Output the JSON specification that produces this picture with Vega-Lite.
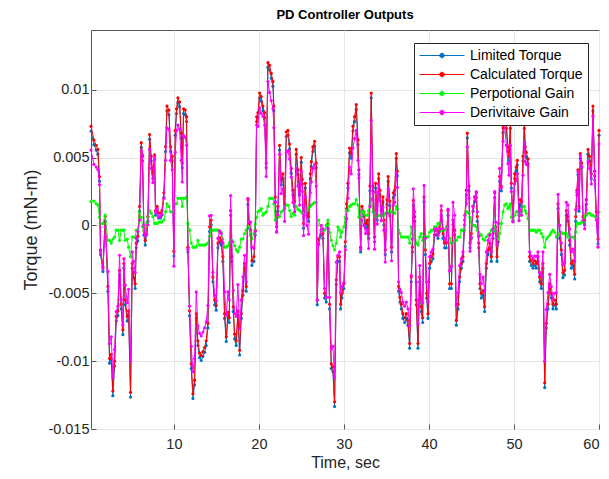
{
  "$schema": "https://vega.github.io/schema/vega-lite/v6.json",
  "width": 508,
  "height": 399,
  "autosize": {"type": "none"},
  "padding": {"left": 91, "top": 30, "right": 10, "bottom": 50},
  "background": "#ffffff",
  "title": {"text": "PD Controller Outputs", "fontSize": 13, "fontWeight": "bold", "font": "Liberation Sans", "color": "#000000", "anchor": "middle", "offset": 8},
  "config": {
    "view": {"stroke": "#555555", "strokeWidth": 1},
    "axis": {"labelFont": "Liberation Sans", "titleFont": "Liberation Sans", "labelFontSize": 14.5, "titleFontSize": 16, "titleFontWeight": "normal", "labelColor": "#262626", "titleColor": "#262626", "gridColor": "#e6e6e6", "gridOpacity": 1, "domain": false, "ticks": true, "tickSize": -5, "tickColor": "#555555"}
  },
  "data": {"values": [
    {"t":0.25,"lim":0.00695,"calc":0.0073,"prop":0.00175,"deriv":0.00555},
    {"t":0.59,"lim":0.00595,"calc":0.0063,"prop":0.0018,"deriv":0.0045},
    {"t":0.86,"lim":0.00555,"calc":0.0059,"prop":0.0016,"deriv":0.0043},
    {"t":1.06,"lim":0.00525,"calc":0.0056,"prop":0.0015,"deriv":0.0041},
    {"t":1.25,"lim":0.00325,"calc":0.0036,"prop":0.0006,"deriv":0.003},
    {"t":1.37,"lim":-0.00215,"calc":-0.0018,"prop":0.00015,"deriv":-0.00195},
    {"t":1.65,"lim":-0.0034,"calc":-0.00305,"prop":0.00015,"deriv":-0.0032},
    {"t":1.92,"lim":0.0003,"calc":0.00065,"prop":0.00076,"deriv":-0.00011},
    {"t":2.24,"lim":-0.00485,"calc":-0.0045,"prop":-0.0011,"deriv":-0.0034},
    {"t":2.43,"lim":-0.01015,"calc":-0.0098,"prop":-0.0011,"deriv":-0.0087},
    {"t":2.63,"lim":-0.00985,"calc":-0.0095,"prop":-0.0013,"deriv":-0.0082},
    {"t":2.82,"lim":-0.01255,"calc":-0.0122,"prop":-0.001,"deriv":-0.0112},
    {"t":3.02,"lim":-0.01035,"calc":-0.01,"prop":-0.00085,"deriv":-0.00915},
    {"t":3.22,"lim":-0.00705,"calc":-0.0067,"prop":-0.00035,"deriv":-0.00635},
    {"t":3.41,"lim":-0.00665,"calc":-0.0063,"prop":-0.00035,"deriv":-0.00595},
    {"t":3.61,"lim":-0.00365,"calc":-0.0033,"prop":-0.0011,"deriv":-0.0022},
    {"t":3.8,"lim":-0.00615,"calc":-0.0058,"prop":-0.00035,"deriv":-0.00545},
    {"t":4.0,"lim":-0.00805,"calc":-0.0077,"prop":-0.00035,"deriv":-0.00735},
    {"t":4.12,"lim":-0.00315,"calc":-0.0028,"prop":-0.00035,"deriv":-0.00245},
    {"t":4.27,"lim":-0.00585,"calc":-0.0055,"prop":-0.0011,"deriv":-0.0044},
    {"t":4.51,"lim":-0.00705,"calc":-0.0067,"prop":-0.001,"deriv":-0.0057},
    {"t":4.67,"lim":-0.00665,"calc":-0.0063,"prop":-0.0016,"deriv":-0.0047},
    {"t":4.9,"lim":-0.01265,"calc":-0.0123,"prop":-0.0023,"deriv":-0.01},
    {"t":5.1,"lim":-0.00315,"calc":-0.0028,"prop":-0.00085,"deriv":-0.00195},
    {"t":5.25,"lim":-0.00385,"calc":-0.0035,"prop":-0.00085,"deriv":-0.00265},
    {"t":5.45,"lim":-0.00465,"calc":-0.0043,"prop":-0.00085,"deriv":-0.00345},
    {"t":5.57,"lim":-0.00165,"calc":-0.0013,"prop":-0.00035,"deriv":-0.00095},
    {"t":5.76,"lim":-0.00115,"calc":-0.0008,"prop":-0.00035,"deriv":-0.00045},
    {"t":5.96,"lim":0.00105,"calc":0.0014,"prop":0.001,"deriv":0.0004},
    {"t":6.16,"lim":0.00575,"calc":0.0061,"prop":0.0006,"deriv":0.0055},
    {"t":6.31,"lim":0.00475,"calc":0.0051,"prop":-0.0001,"deriv":0.0052},
    {"t":6.47,"lim":-0.0007,"calc":-0.00035,"prop":-0.00035,"deriv":0.0},
    {"t":6.63,"lim":-0.00145,"calc":-0.0011,"prop":-0.00035,"deriv":-0.00075},
    {"t":6.78,"lim":-0.0007,"calc":-0.00035,"prop":0.0002,"deriv":-0.00055},
    {"t":6.94,"lim":0.0003,"calc":0.00065,"prop":0.0006,"deriv":0.00005},
    {"t":7.14,"lim":0.00635,"calc":0.0067,"prop":0.0011,"deriv":0.0056},
    {"t":7.33,"lim":0.00475,"calc":0.0051,"prop":0.0009,"deriv":0.0042},
    {"t":7.53,"lim":0.00345,"calc":0.0038,"prop":0.00065,"deriv":0.00315},
    {"t":7.73,"lim":0.00485,"calc":0.0052,"prop":0.00015,"deriv":0.00505},
    {"t":7.84,"lim":0.00075,"calc":0.0011,"prop":0.00015,"deriv":0.00095},
    {"t":8.04,"lim":0.00105,"calc":0.0014,"prop":0.00015,"deriv":0.00125},
    {"t":8.2,"lim":0.00055,"calc":0.0009,"prop":0.00025,"deriv":0.00065},
    {"t":8.43,"lim":0.00055,"calc":0.0009,"prop":0.00025,"deriv":0.00065},
    {"t":8.59,"lim":0.00075,"calc":0.0011,"prop":0.00025,"deriv":0.00085},
    {"t":8.82,"lim":0.00205,"calc":0.0024,"prop":0.0004,"deriv":0.002},
    {"t":9.02,"lim":0.00545,"calc":0.0058,"prop":0.001,"deriv":0.0048},
    {"t":9.18,"lim":0.00845,"calc":0.0088,"prop":0.0016,"deriv":0.0072},
    {"t":9.41,"lim":0.00815,"calc":0.0085,"prop":0.0014,"deriv":0.0071},
    {"t":9.61,"lim":0.00545,"calc":0.0058,"prop":0.001,"deriv":0.0048},
    {"t":9.8,"lim":0.00475,"calc":0.0051,"prop":0.001,"deriv":0.0041},
    {"t":10.0,"lim":-0.00225,"calc":-0.0019,"prop":0.0011,"deriv":-0.003},
    {"t":10.16,"lim":0.00665,"calc":0.007,"prop":0.0016,"deriv":0.0054},
    {"t":10.31,"lim":0.00825,"calc":0.0086,"prop":0.0016,"deriv":0.007},
    {"t":10.47,"lim":0.00905,"calc":0.0094,"prop":0.002,"deriv":0.0074},
    {"t":10.67,"lim":0.00875,"calc":0.0091,"prop":0.002,"deriv":0.0071},
    {"t":10.86,"lim":0.00645,"calc":0.0068,"prop":0.002,"deriv":0.0048},
    {"t":10.98,"lim":0.00425,"calc":0.0046,"prop":0.0014,"deriv":0.0032},
    {"t":11.14,"lim":0.00825,"calc":0.0086,"prop":0.002,"deriv":0.0066},
    {"t":11.33,"lim":0.00815,"calc":0.0085,"prop":0.002,"deriv":0.0065},
    {"t":11.49,"lim":0.00765,"calc":0.008,"prop":0.0021,"deriv":0.0059},
    {"t":11.65,"lim":-0.00195,"calc":-0.0016,"prop":0.00015,"deriv":-0.00175},
    {"t":11.84,"lim":-0.00665,"calc":-0.0063,"prop":-0.00035,"deriv":-0.00595},
    {"t":12.04,"lim":-0.01055,"calc":-0.0102,"prop":-0.0013,"deriv":-0.0089},
    {"t":12.24,"lim":-0.01275,"calc":-0.0124,"prop":-0.0016,"deriv":-0.0108},
    {"t":12.43,"lim":-0.01175,"calc":-0.0114,"prop":-0.0016,"deriv":-0.0098},
    {"t":12.63,"lim":-0.00685,"calc":-0.0065,"prop":-0.0016,"deriv":-0.0049},
    {"t":12.82,"lim":-0.00885,"calc":-0.0085,"prop":-0.0011,"deriv":-0.0074},
    {"t":13.02,"lim":-0.00975,"calc":-0.0094,"prop":-0.00145,"deriv":-0.00795},
    {"t":13.22,"lim":-0.00995,"calc":-0.0096,"prop":-0.00145,"deriv":-0.00815},
    {"t":13.41,"lim":-0.00965,"calc":-0.0093,"prop":-0.00145,"deriv":-0.00785},
    {"t":13.61,"lim":-0.00935,"calc":-0.009,"prop":-0.00145,"deriv":-0.00755},
    {"t":13.8,"lim":-0.00885,"calc":-0.0085,"prop":-0.0014,"deriv":-0.0071},
    {"t":14.0,"lim":-0.00755,"calc":-0.0072,"prop":-0.0013,"deriv":-0.0059},
    {"t":14.2,"lim":-0.00045,"calc":-0.0001,"prop":-0.0008,"deriv":0.0007},
    {"t":14.39,"lim":0.00005,"calc":0.0004,"prop":-0.00035,"deriv":0.00075},
    {"t":14.59,"lim":-0.00415,"calc":-0.0038,"prop":-0.00035,"deriv":-0.00345},
    {"t":14.79,"lim":-0.00585,"calc":-0.0055,"prop":-0.00035,"deriv":-0.00515},
    {"t":14.98,"lim":-0.00625,"calc":-0.0059,"prop":-0.00035,"deriv":-0.00555},
    {"t":15.18,"lim":-0.00165,"calc":-0.0013,"prop":-0.00035,"deriv":-0.00095},
    {"t":15.37,"lim":-0.00125,"calc":-0.0009,"prop":-0.0005,"deriv":-0.0004},
    {"t":15.57,"lim":-0.00145,"calc":-0.0011,"prop":-0.0005,"deriv":-0.0006},
    {"t":15.76,"lim":-0.00265,"calc":-0.0023,"prop":-0.001,"deriv":-0.0013},
    {"t":15.96,"lim":-0.00685,"calc":-0.0065,"prop":-0.0016,"deriv":-0.0049},
    {"t":16.16,"lim":-0.00855,"calc":-0.0082,"prop":-0.0016,"deriv":-0.0066},
    {"t":16.35,"lim":-0.00675,"calc":-0.0064,"prop":-0.0015,"deriv":-0.0049},
    {"t":16.51,"lim":-0.00715,"calc":-0.0068,"prop":-0.0013,"deriv":-0.0055},
    {"t":16.67,"lim":0.00075,"calc":0.0011,"prop":-0.0011,"deriv":0.0022},
    {"t":16.82,"lim":-0.00265,"calc":-0.0023,"prop":-0.0011,"deriv":-0.0012},
    {"t":16.98,"lim":-0.00635,"calc":-0.006,"prop":-0.0012,"deriv":-0.0048},
    {"t":17.14,"lim":-0.00835,"calc":-0.008,"prop":-0.0015,"deriv":-0.0065},
    {"t":17.33,"lim":-0.00885,"calc":-0.0085,"prop":-0.0018,"deriv":-0.0067},
    {"t":17.53,"lim":-0.00665,"calc":-0.0063,"prop":-0.00195,"deriv":-0.00435},
    {"t":17.73,"lim":-0.00955,"calc":-0.0092,"prop":-0.0016,"deriv":-0.0076},
    {"t":17.92,"lim":-0.00685,"calc":-0.0065,"prop":-0.001,"deriv":-0.0055},
    {"t":18.12,"lim":-0.00515,"calc":-0.0048,"prop":-0.001,"deriv":-0.0038},
    {"t":18.31,"lim":-0.00315,"calc":-0.0028,"prop":-0.0006,"deriv":-0.0022},
    {"t":18.51,"lim":-0.00485,"calc":-0.0045,"prop":-0.00035,"deriv":-0.00415},
    {"t":18.71,"lim":0.00155,"calc":0.0019,"prop":-0.0001,"deriv":0.002},
    {"t":18.86,"lim":-0.0002,"calc":0.00015,"prop":-0.0001,"deriv":0.00025},
    {"t":19.02,"lim":-0.0007,"calc":-0.00035,"prop":-0.0006,"deriv":0.00025},
    {"t":19.18,"lim":-0.00295,"calc":-0.0026,"prop":-0.001,"deriv":-0.0016},
    {"t":19.41,"lim":-0.00265,"calc":-0.0023,"prop":-0.0006,"deriv":-0.0017},
    {"t":19.57,"lim":-0.0007,"calc":-0.00035,"prop":0.0001,"deriv":-0.00045},
    {"t":19.73,"lim":0.00765,"calc":0.008,"prop":0.0006,"deriv":0.0074},
    {"t":19.88,"lim":0.00795,"calc":0.0083,"prop":0.001,"deriv":0.0073},
    {"t":20.08,"lim":0.0094,"calc":0.00975,"prop":0.0011,"deriv":0.00865},
    {"t":20.27,"lim":0.00915,"calc":0.0095,"prop":0.00125,"deriv":0.00825},
    {"t":20.47,"lim":0.00845,"calc":0.0088,"prop":0.00075,"deriv":0.00805},
    {"t":20.67,"lim":0.00795,"calc":0.0083,"prop":0.0009,"deriv":0.0074},
    {"t":20.86,"lim":0.00425,"calc":0.0046,"prop":0.001,"deriv":0.0036},
    {"t":21.06,"lim":0.01165,"calc":0.012,"prop":0.0014,"deriv":0.0106},
    {"t":21.25,"lim":0.01145,"calc":0.0118,"prop":0.002,"deriv":0.0098},
    {"t":21.45,"lim":0.01085,"calc":0.0112,"prop":0.002,"deriv":0.0092},
    {"t":21.65,"lim":0.01025,"calc":0.0106,"prop":0.002,"deriv":0.0086},
    {"t":21.76,"lim":0.00845,"calc":0.0088,"prop":0.0016,"deriv":0.0072},
    {"t":21.92,"lim":0.00175,"calc":0.0021,"prop":0.0004,"deriv":0.0017},
    {"t":22.08,"lim":-0.00045,"calc":-0.0001,"prop":0.0004,"deriv":-0.0005},
    {"t":22.24,"lim":0.00105,"calc":0.0014,"prop":0.0006,"deriv":0.0008},
    {"t":22.43,"lim":0.00555,"calc":0.0059,"prop":0.00065,"deriv":0.00525},
    {"t":22.63,"lim":0.003,"calc":0.00335,"prop":0.001,"deriv":0.00235},
    {"t":22.82,"lim":0.00345,"calc":0.0038,"prop":0.0011,"deriv":0.0027},
    {"t":23.02,"lim":0.00125,"calc":0.0016,"prop":0.0013,"deriv":0.0003},
    {"t":23.22,"lim":0.00655,"calc":0.0069,"prop":0.0015,"deriv":0.0054},
    {"t":23.41,"lim":0.00665,"calc":0.007,"prop":0.0015,"deriv":0.0055},
    {"t":23.61,"lim":0.00565,"calc":0.006,"prop":0.0011,"deriv":0.0049},
    {"t":23.8,"lim":0.00385,"calc":0.0042,"prop":0.00065,"deriv":0.00355},
    {"t":24.0,"lim":0.00225,"calc":0.0026,"prop":0.0009,"deriv":0.0017},
    {"t":24.2,"lim":0.0014,"calc":0.00175,"prop":0.00075,"deriv":0.001},
    {"t":24.39,"lim":0.00525,"calc":0.0056,"prop":0.0014,"deriv":0.0042},
    {"t":24.59,"lim":0.00375,"calc":0.0041,"prop":0.0012,"deriv":0.0029},
    {"t":24.78,"lim":0.00225,"calc":0.0026,"prop":0.0011,"deriv":0.0015},
    {"t":24.98,"lim":0.00465,"calc":0.005,"prop":0.001,"deriv":0.004},
    {"t":25.1,"lim":0.00305,"calc":0.0034,"prop":0.0009,"deriv":0.0025},
    {"t":25.25,"lim":-0.0002,"calc":0.00015,"prop":0.0009,"deriv":-0.00075},
    {"t":25.45,"lim":0.00275,"calc":0.0031,"prop":0.001,"deriv":0.0021},
    {"t":25.65,"lim":0.00075,"calc":0.0011,"prop":0.0011,"deriv":0.0},
    {"t":25.84,"lim":0.0003,"calc":0.00065,"prop":0.0013,"deriv":-0.00065},
    {"t":26.04,"lim":0.00345,"calc":0.0038,"prop":0.0014,"deriv":0.0024},
    {"t":26.16,"lim":0.00435,"calc":0.0047,"prop":0.0015,"deriv":0.0032},
    {"t":26.35,"lim":0.00545,"calc":0.0058,"prop":0.0016,"deriv":0.0042},
    {"t":26.55,"lim":0.00585,"calc":0.0062,"prop":0.0017,"deriv":0.0045},
    {"t":26.74,"lim":0.00425,"calc":0.0046,"prop":0.0017,"deriv":0.0029},
    {"t":26.86,"lim":-0.00585,"calc":-0.0055,"prop":0.0,"deriv":-0.0055},
    {"t":27.02,"lim":-0.00135,"calc":-0.001,"prop":0.0004,"deriv":-0.0014},
    {"t":27.33,"lim":-0.0007,"calc":-0.00035,"prop":-0.00035,"deriv":0.0},
    {"t":27.53,"lim":-0.00095,"calc":-0.0006,"prop":-0.00035,"deriv":-0.00025},
    {"t":27.72,"lim":-0.00535,"calc":-0.005,"prop":-0.00035,"deriv":-0.00465},
    {"t":27.92,"lim":-0.00565,"calc":-0.0053,"prop":0.0,"deriv":-0.0053},
    {"t":28.12,"lim":-0.0002,"calc":0.00015,"prop":0.0004,"deriv":-0.00025},
    {"t":28.31,"lim":-0.00615,"calc":-0.0058,"prop":-0.0005,"deriv":-0.0053},
    {"t":28.51,"lim":-0.01055,"calc":-0.0102,"prop":-0.0011,"deriv":-0.0091},
    {"t":28.7,"lim":-0.01075,"calc":-0.0104,"prop":-0.0015,"deriv":-0.0089},
    {"t":28.9,"lim":-0.01335,"calc":-0.013,"prop":-0.0018,"deriv":-0.0112},
    {"t":29.1,"lim":-0.00435,"calc":-0.004,"prop":-0.0013,"deriv":-0.0027},
    {"t":29.29,"lim":-0.00265,"calc":-0.0023,"prop":-0.0001,"deriv":-0.0022},
    {"t":29.49,"lim":-0.00265,"calc":-0.0023,"prop":-0.00035,"deriv":-0.00195},
    {"t":29.61,"lim":-0.00615,"calc":-0.0058,"prop":-0.00085,"deriv":-0.00495},
    {"t":29.76,"lim":-0.00535,"calc":-0.005,"prop":-0.0005,"deriv":-0.0045},
    {"t":30.0,"lim":-0.00465,"calc":-0.0043,"prop":-0.0001,"deriv":-0.0042},
    {"t":30.16,"lim":-0.00155,"calc":-0.0012,"prop":0.0006,"deriv":-0.0018},
    {"t":30.31,"lim":0.00125,"calc":0.0016,"prop":0.0011,"deriv":0.0005},
    {"t":30.47,"lim":0.00275,"calc":0.0031,"prop":0.0011,"deriv":0.002},
    {"t":30.66,"lim":0.00535,"calc":0.0057,"prop":0.0014,"deriv":0.0043},
    {"t":30.86,"lim":0.00495,"calc":0.0053,"prop":0.0015,"deriv":0.0038},
    {"t":31.06,"lim":0.00695,"calc":0.0073,"prop":0.0016,"deriv":0.0057},
    {"t":31.25,"lim":0.00765,"calc":0.008,"prop":0.0016,"deriv":0.0064},
    {"t":31.45,"lim":0.00855,"calc":0.0089,"prop":0.0019,"deriv":0.007},
    {"t":31.65,"lim":0.00595,"calc":0.0063,"prop":0.0015,"deriv":0.0048},
    {"t":31.76,"lim":0.00375,"calc":0.0041,"prop":0.0006,"deriv":0.0035},
    {"t":31.96,"lim":-0.00195,"calc":-0.0016,"prop":0.00015,"deriv":-0.00175},
    {"t":32.12,"lim":0.00105,"calc":0.0014,"prop":0.001,"deriv":0.0004},
    {"t":32.35,"lim":0.00065,"calc":0.001,"prop":0.001,"deriv":0.0},
    {"t":32.55,"lim":-0.0002,"calc":0.00015,"prop":0.00075,"deriv":-0.0006},
    {"t":32.74,"lim":0.00005,"calc":0.0004,"prop":0.00075,"deriv":-0.00035},
    {"t":32.9,"lim":-0.00095,"calc":-0.0006,"prop":0.0011,"deriv":-0.0017},
    {"t":33.06,"lim":0.00255,"calc":0.0029,"prop":0.0015,"deriv":0.0014},
    {"t":33.21,"lim":0.0094,"calc":0.00975,"prop":0.002,"deriv":0.00775},
    {"t":33.41,"lim":0.00255,"calc":0.0029,"prop":0.001,"deriv":0.0019},
    {"t":33.6,"lim":-0.0012,"calc":-0.00085,"prop":0.0009,"deriv":-0.00175},
    {"t":33.72,"lim":0.00275,"calc":0.0031,"prop":0.00065,"deriv":0.00245},
    {"t":33.92,"lim":0.0004,"calc":0.00075,"prop":0.00065,"deriv":0.0001},
    {"t":34.08,"lim":0.00345,"calc":0.0038,"prop":0.00075,"deriv":0.00305},
    {"t":34.23,"lim":0.00225,"calc":0.0026,"prop":0.00075,"deriv":0.00185},
    {"t":34.39,"lim":0.00075,"calc":0.0011,"prop":0.00075,"deriv":0.00035},
    {"t":34.59,"lim":0.00175,"calc":0.0021,"prop":0.00075,"deriv":0.00135},
    {"t":34.7,"lim":0.00005,"calc":0.0004,"prop":0.00075,"deriv":-0.00035},
    {"t":34.86,"lim":-0.00215,"calc":-0.0018,"prop":0.0009,"deriv":-0.0027},
    {"t":35.06,"lim":0.00155,"calc":0.0019,"prop":0.001,"deriv":0.0009},
    {"t":35.2,"lim":0.00325,"calc":0.0036,"prop":0.0009,"deriv":0.0027},
    {"t":35.4,"lim":0.00145,"calc":0.0018,"prop":0.0011,"deriv":0.0007},
    {"t":35.6,"lim":-0.00195,"calc":-0.0016,"prop":0.001,"deriv":-0.0026},
    {"t":35.81,"lim":0.00205,"calc":0.0024,"prop":0.0009,"deriv":0.0015},
    {"t":35.96,"lim":0.00225,"calc":0.0026,"prop":0.0009,"deriv":0.0017},
    {"t":36.16,"lim":0.00495,"calc":0.0053,"prop":0.0014,"deriv":0.0039},
    {"t":36.28,"lim":0.00365,"calc":0.004,"prop":0.0012,"deriv":0.0028},
    {"t":36.43,"lim":-0.00485,"calc":-0.0045,"prop":-0.00035,"deriv":-0.00415},
    {"t":36.59,"lim":-0.00565,"calc":-0.0053,"prop":-0.0006,"deriv":-0.0047},
    {"t":36.75,"lim":-0.00615,"calc":-0.0058,"prop":-0.00085,"deriv":-0.00495},
    {"t":36.94,"lim":-0.00685,"calc":-0.0065,"prop":-0.00085,"deriv":-0.00565},
    {"t":37.14,"lim":-0.00715,"calc":-0.0068,"prop":-0.00085,"deriv":-0.00595},
    {"t":37.34,"lim":-0.00685,"calc":-0.0065,"prop":-0.00085,"deriv":-0.00565},
    {"t":37.53,"lim":-0.00735,"calc":-0.007,"prop":-0.00085,"deriv":-0.00615},
    {"t":37.73,"lim":-0.00905,"calc":-0.0087,"prop":-0.0013,"deriv":-0.0074},
    {"t":37.92,"lim":-0.00415,"calc":-0.0038,"prop":-0.0001,"deriv":-0.0037},
    {"t":38.04,"lim":-0.00195,"calc":-0.0016,"prop":-0.0006,"deriv":-0.001},
    {"t":38.16,"lim":0.0015,"calc":0.00185,"prop":-0.00085,"deriv":0.0027},
    {"t":38.32,"lim":0.0003,"calc":0.00065,"prop":-0.00035,"deriv":0.001},
    {"t":38.51,"lim":-0.00585,"calc":-0.0055,"prop":-0.0013,"deriv":-0.0042},
    {"t":38.71,"lim":-0.00905,"calc":-0.0087,"prop":-0.00145,"deriv":-0.00725},
    {"t":38.91,"lim":-0.00415,"calc":-0.0038,"prop":-0.00085,"deriv":-0.00295},
    {"t":39.1,"lim":-0.00635,"calc":-0.006,"prop":-0.0006,"deriv":-0.0054},
    {"t":39.26,"lim":-0.00715,"calc":-0.0068,"prop":-0.0011,"deriv":-0.0057},
    {"t":39.42,"lim":0.00175,"calc":0.0021,"prop":-0.00085,"deriv":0.00295},
    {"t":39.57,"lim":-0.00215,"calc":-0.0018,"prop":-0.00085,"deriv":-0.00095},
    {"t":39.73,"lim":-0.00535,"calc":-0.005,"prop":-0.00085,"deriv":-0.00415},
    {"t":39.89,"lim":-0.00685,"calc":-0.0065,"prop":-0.00085,"deriv":-0.00565},
    {"t":40.08,"lim":-0.00315,"calc":-0.0028,"prop":-0.0005,"deriv":-0.0023},
    {"t":40.28,"lim":-0.00265,"calc":-0.0023,"prop":-0.00035,"deriv":-0.00195},
    {"t":40.47,"lim":-0.00245,"calc":-0.0021,"prop":-0.00035,"deriv":-0.00175},
    {"t":40.67,"lim":-0.0007,"calc":-0.00035,"prop":-0.0001,"deriv":-0.00025},
    {"t":40.87,"lim":-0.0007,"calc":-0.00035,"prop":-0.0001,"deriv":-0.00025},
    {"t":41.06,"lim":-0.00095,"calc":-0.0006,"prop":0.00015,"deriv":-0.00075},
    {"t":41.26,"lim":-0.00045,"calc":-0.0001,"prop":0.00015,"deriv":-0.00025},
    {"t":41.45,"lim":0.00075,"calc":0.0011,"prop":-0.00035,"deriv":0.00145},
    {"t":41.65,"lim":-0.00095,"calc":-0.0006,"prop":-0.00035,"deriv":-0.00025},
    {"t":41.85,"lim":-0.00165,"calc":-0.0013,"prop":-0.00035,"deriv":-0.00095},
    {"t":42.04,"lim":-0.00165,"calc":-0.0013,"prop":-0.0001,"deriv":-0.0012},
    {"t":42.24,"lim":0.00075,"calc":0.0011,"prop":-0.0001,"deriv":0.0012},
    {"t":42.43,"lim":-0.00465,"calc":-0.0043,"prop":-0.00095,"deriv":-0.00335},
    {"t":42.63,"lim":-0.00465,"calc":-0.0043,"prop":-0.0013,"deriv":-0.003},
    {"t":42.83,"lim":0.00005,"calc":0.0004,"prop":-0.0013,"deriv":0.0017},
    {"t":43.02,"lim":-0.0007,"calc":-0.00035,"prop":-0.0011,"deriv":0.00075},
    {"t":43.22,"lim":-0.00735,"calc":-0.007,"prop":-0.0011,"deriv":-0.0059},
    {"t":43.42,"lim":-0.00615,"calc":-0.0058,"prop":-0.00085,"deriv":-0.00495},
    {"t":43.61,"lim":-0.00415,"calc":-0.0038,"prop":-0.00085,"deriv":-0.00295},
    {"t":43.81,"lim":-0.00315,"calc":-0.0028,"prop":-0.00035,"deriv":-0.00245},
    {"t":44.0,"lim":-0.00265,"calc":-0.0023,"prop":-0.00035,"deriv":-0.00195},
    {"t":44.2,"lim":0.00005,"calc":0.0004,"prop":-0.00035,"deriv":0.00075},
    {"t":44.4,"lim":0.00225,"calc":0.0026,"prop":0.001,"deriv":0.0016},
    {"t":44.51,"lim":0.00645,"calc":0.0068,"prop":0.001,"deriv":0.0058},
    {"t":44.71,"lim":0.00255,"calc":0.0029,"prop":0.0009,"deriv":0.002},
    {"t":44.83,"lim":-0.00165,"calc":-0.0013,"prop":0.0006,"deriv":-0.0019},
    {"t":44.98,"lim":-0.00095,"calc":-0.0006,"prop":0.00025,"deriv":-0.00085},
    {"t":45.18,"lim":0.00105,"calc":0.0014,"prop":0.0,"deriv":0.0014},
    {"t":45.38,"lim":0.00175,"calc":0.0021,"prop":0.0,"deriv":0.0021},
    {"t":45.57,"lim":0.00205,"calc":0.0024,"prop":-0.0001,"deriv":0.0025},
    {"t":45.69,"lim":0.0003,"calc":0.00065,"prop":-0.00035,"deriv":0.001},
    {"t":45.85,"lim":-0.00165,"calc":-0.0013,"prop":-0.0005,"deriv":-0.0008},
    {"t":46.0,"lim":-0.00465,"calc":-0.0043,"prop":-0.0007,"deriv":-0.0036},
    {"t":46.16,"lim":-0.00535,"calc":-0.005,"prop":-0.0007,"deriv":-0.0043},
    {"t":46.36,"lim":-0.00515,"calc":-0.0048,"prop":-0.001,"deriv":-0.0038},
    {"t":46.55,"lim":-0.00635,"calc":-0.006,"prop":-0.0011,"deriv":-0.0049},
    {"t":46.75,"lim":-0.00315,"calc":-0.0028,"prop":-0.00085,"deriv":-0.00195},
    {"t":46.95,"lim":-0.00215,"calc":-0.0018,"prop":-0.0007,"deriv":-0.0011},
    {"t":47.14,"lim":-0.00165,"calc":-0.0013,"prop":-0.0006,"deriv":-0.0007},
    {"t":47.34,"lim":-0.00265,"calc":-0.0023,"prop":-0.00035,"deriv":-0.00195},
    {"t":47.53,"lim":-0.00095,"calc":-0.0006,"prop":-0.00035,"deriv":-0.00025},
    {"t":47.73,"lim":0.00205,"calc":0.0024,"prop":-0.0001,"deriv":0.0025},
    {"t":47.84,"lim":-0.00045,"calc":-0.0001,"prop":-0.00035,"deriv":0.00025},
    {"t":48.0,"lim":-0.00265,"calc":-0.0023,"prop":-0.00085,"deriv":-0.00145},
    {"t":48.16,"lim":-0.0012,"calc":-0.00085,"prop":-0.001,"deriv":0.00015},
    {"t":48.31,"lim":0.00325,"calc":0.0036,"prop":-0.0006,"deriv":0.0042},
    {"t":48.51,"lim":0.00255,"calc":0.0029,"prop":0.00015,"deriv":0.00275},
    {"t":48.71,"lim":0.00685,"calc":0.0072,"prop":0.001,"deriv":0.0062},
    {"t":48.9,"lim":0.00865,"calc":0.009,"prop":0.0015,"deriv":0.0075},
    {"t":49.1,"lim":0.00715,"calc":0.0075,"prop":0.0016,"deriv":0.0059},
    {"t":49.29,"lim":0.00545,"calc":0.0058,"prop":0.00125,"deriv":0.00455},
    {"t":49.41,"lim":0.00475,"calc":0.0051,"prop":0.0014,"deriv":0.0037},
    {"t":49.57,"lim":0.00715,"calc":0.0075,"prop":0.0016,"deriv":0.0059},
    {"t":49.69,"lim":0.00275,"calc":0.0031,"prop":0.0006,"deriv":0.0025},
    {"t":49.88,"lim":0.0003,"calc":0.00065,"prop":0.0004,"deriv":0.00025},
    {"t":50.08,"lim":0.00345,"calc":0.0038,"prop":0.00075,"deriv":0.00305},
    {"t":50.27,"lim":0.00395,"calc":0.0043,"prop":0.001,"deriv":0.0033},
    {"t":50.39,"lim":0.00445,"calc":0.0048,"prop":0.001,"deriv":0.0038},
    {"t":50.59,"lim":0.00075,"calc":0.0011,"prop":0.00075,"deriv":0.00035},
    {"t":50.75,"lim":0.00155,"calc":0.0019,"prop":0.00075,"deriv":0.00115},
    {"t":50.9,"lim":0.0014,"calc":0.00175,"prop":0.001,"deriv":0.00075},
    {"t":51.06,"lim":0.00475,"calc":0.0051,"prop":0.0014,"deriv":0.0037},
    {"t":51.22,"lim":0.00715,"calc":0.0075,"prop":0.0014,"deriv":0.0061},
    {"t":51.33,"lim":0.00545,"calc":0.0058,"prop":0.0011,"deriv":0.0047},
    {"t":51.45,"lim":0.00505,"calc":0.0054,"prop":0.0009,"deriv":0.0045},
    {"t":51.65,"lim":0.00455,"calc":0.0049,"prop":0.0005,"deriv":0.0044},
    {"t":51.84,"lim":-0.00265,"calc":-0.0023,"prop":-0.00035,"deriv":-0.00195},
    {"t":52.04,"lim":-0.00295,"calc":-0.0026,"prop":-0.00035,"deriv":-0.00225},
    {"t":52.24,"lim":-0.00315,"calc":-0.0028,"prop":-0.00035,"deriv":-0.00245},
    {"t":52.43,"lim":-0.00295,"calc":-0.0026,"prop":-0.00035,"deriv":-0.00225},
    {"t":52.63,"lim":-0.00315,"calc":-0.0028,"prop":-0.0005,"deriv":-0.0023},
    {"t":52.82,"lim":-0.00265,"calc":-0.0023,"prop":-0.00035,"deriv":-0.00195},
    {"t":53.02,"lim":-0.00415,"calc":-0.0038,"prop":-0.00035,"deriv":-0.00345},
    {"t":53.22,"lim":-0.00465,"calc":-0.0043,"prop":-0.0006,"deriv":-0.0037},
    {"t":53.41,"lim":-0.00315,"calc":-0.0028,"prop":-0.00085,"deriv":-0.00195},
    {"t":53.61,"lim":-0.01195,"calc":-0.0116,"prop":-0.0016,"deriv":-0.01},
    {"t":53.8,"lim":-0.00755,"calc":-0.0072,"prop":-0.001,"deriv":-0.0062},
    {"t":54.0,"lim":-0.00615,"calc":-0.0058,"prop":-0.00085,"deriv":-0.00495},
    {"t":54.2,"lim":-0.00465,"calc":-0.0043,"prop":-0.0007,"deriv":-0.0036},
    {"t":54.39,"lim":-0.00535,"calc":-0.005,"prop":-0.0005,"deriv":-0.0045},
    {"t":54.59,"lim":-0.00615,"calc":-0.0058,"prop":-0.00035,"deriv":-0.00545},
    {"t":54.78,"lim":-0.00585,"calc":-0.0055,"prop":-0.0005,"deriv":-0.005},
    {"t":54.98,"lim":-0.00615,"calc":-0.0058,"prop":-0.00085,"deriv":-0.00495},
    {"t":55.18,"lim":0.00125,"calc":0.0016,"prop":-0.0007,"deriv":0.0023},
    {"t":55.37,"lim":-0.00095,"calc":-0.0006,"prop":-0.0006,"deriv":0.0},
    {"t":55.57,"lim":-0.00215,"calc":-0.0018,"prop":-0.0005,"deriv":-0.0013},
    {"t":55.76,"lim":-0.00385,"calc":-0.0035,"prop":-0.0006,"deriv":-0.0029},
    {"t":55.96,"lim":-0.00365,"calc":-0.0033,"prop":-0.0006,"deriv":-0.0027},
    {"t":56.16,"lim":0.00075,"calc":0.0011,"prop":-0.0006,"deriv":0.0017},
    {"t":56.35,"lim":0.0003,"calc":0.00065,"prop":-0.00085,"deriv":0.0015},
    {"t":56.55,"lim":-0.00145,"calc":-0.0011,"prop":-0.00085,"deriv":-0.00025},
    {"t":56.75,"lim":-0.00315,"calc":-0.0028,"prop":-0.00085,"deriv":-0.00195},
    {"t":56.94,"lim":-0.00295,"calc":-0.0026,"prop":-0.00085,"deriv":-0.00175},
    {"t":57.14,"lim":-0.00395,"calc":-0.0036,"prop":-0.00095,"deriv":-0.00265},
    {"t":57.25,"lim":0.0003,"calc":0.00065,"prop":-0.0005,"deriv":0.00115},
    {"t":57.41,"lim":0.00225,"calc":0.0026,"prop":0.00015,"deriv":0.00245},
    {"t":57.53,"lim":0.00375,"calc":0.0041,"prop":0.00015,"deriv":0.00395},
    {"t":57.65,"lim":0.00105,"calc":0.0014,"prop":0.00015,"deriv":0.00125},
    {"t":57.8,"lim":0.00495,"calc":0.0053,"prop":0.00015,"deriv":0.00515},
    {"t":57.96,"lim":0.00425,"calc":0.0046,"prop":0.00025,"deriv":0.00435},
    {"t":58.12,"lim":0.0003,"calc":0.00065,"prop":0.00025,"deriv":0.0004},
    {"t":58.31,"lim":0.00005,"calc":0.0004,"prop":0.00065,"deriv":-0.00025},
    {"t":58.51,"lim":0.00155,"calc":0.0019,"prop":0.00075,"deriv":0.00115},
    {"t":58.71,"lim":0.00525,"calc":0.0056,"prop":0.0009,"deriv":0.0047},
    {"t":58.9,"lim":0.00475,"calc":0.0051,"prop":0.0009,"deriv":0.0042},
    {"t":59.1,"lim":0.00345,"calc":0.0038,"prop":0.00075,"deriv":0.00305},
    {"t":59.29,"lim":0.00845,"calc":0.0088,"prop":0.00075,"deriv":0.00805},
    {"t":59.49,"lim":0.00365,"calc":0.004,"prop":0.00065,"deriv":0.00335},
    {"t":59.69,"lim":0.00065,"calc":0.001,"prop":0.0006,"deriv":0.0004},
    {"t":59.88,"lim":-0.00135,"calc":-0.001,"prop":0.0006,"deriv":-0.0016},
    {"t":60.0,"lim":0.00665,"calc":0.007,"prop":0.001,"deriv":0.006}
  ]},
  "transform": [{"fold": ["lim", "calc", "prop", "deriv"], "as": ["series", "value"]}],
  "encoding": {
    "x": {"field": "t", "type": "quantitative", "scale": {"domain": [0.25, 60], "nice": false, "zero": false},
      "axis": {"title": "Time, sec", "values": [10, 20, 30, 40, 50, 60], "labelPadding": 13, "titlePadding": 4, "grid": true}},
    "y": {"field": "value", "type": "quantitative", "scale": {"domain": [-0.015, 0.0144], "nice": false, "zero": false},
      "axis": {"title": "Torque (mN-m)", "titleFontSize": 18, "values": [-0.015, -0.01, -0.005, 0, 0.005, 0.01], "labelExpr": "'' + datum.value", "labelPadding": 7, "titlePadding": 7, "grid": true}},
    "color": {"field": "series", "type": "nominal",
      "scale": {"domain": ["lim", "calc", "prop", "deriv"], "range": ["#0072BD", "#FF0000", "#00FF00", "#FF00FF"]},
      "legend": {"orient": "none", "legendX": 323, "legendY": 13, "title": null,
        "labelExpr": "datum.value === 'lim' ? 'Limited Torque' : datum.value === 'calc' ? 'Calculated Torque' : datum.value === 'prop' ? 'Perpotional Gain' : 'Derivitaive Gain'",
        "symbolType": "M-1,0H1M0.1,0A0.1,0.1,0,1,1,-0.1,0A0.1,0.1,0,1,1,0.1,0Z",
        "symbolSize": 2025, "symbolStrokeWidth": 1, "labelFont": "Liberation Sans", "labelFontSize": 14, "labelColor": "#000000",
        "fillColor": "#ffffff", "strokeColor": "#262626", "padding": 5, "clipHeight": 15, "rowPadding": 4, "labelOffset": 5, "labelLimit": 300,
        "encode": {"symbols": {"update": {"fill": {"scale": "color", "field": "value"}, "stroke": {"scale": "color", "field": "value"}, "opacity": {"value": 1}}}}}
    }
  },
  "layer": [
    {"transform": [{"filter": "datum.series === 'lim'"}], "mark": {"type": "line", "strokeWidth": 1, "point": {"filled": true, "size": 10}}},
    {"transform": [{"filter": "datum.series === 'calc'"}], "mark": {"type": "line", "strokeWidth": 1, "point": {"filled": true, "size": 10}}},
    {"transform": [{"filter": "datum.series === 'prop'"}], "mark": {"type": "line", "strokeWidth": 1, "point": {"filled": true, "size": 10}}},
    {"transform": [{"filter": "datum.series === 'deriv'"}], "mark": {"type": "line", "strokeWidth": 1, "point": {"filled": true, "size": 10}}}
  ]
}
